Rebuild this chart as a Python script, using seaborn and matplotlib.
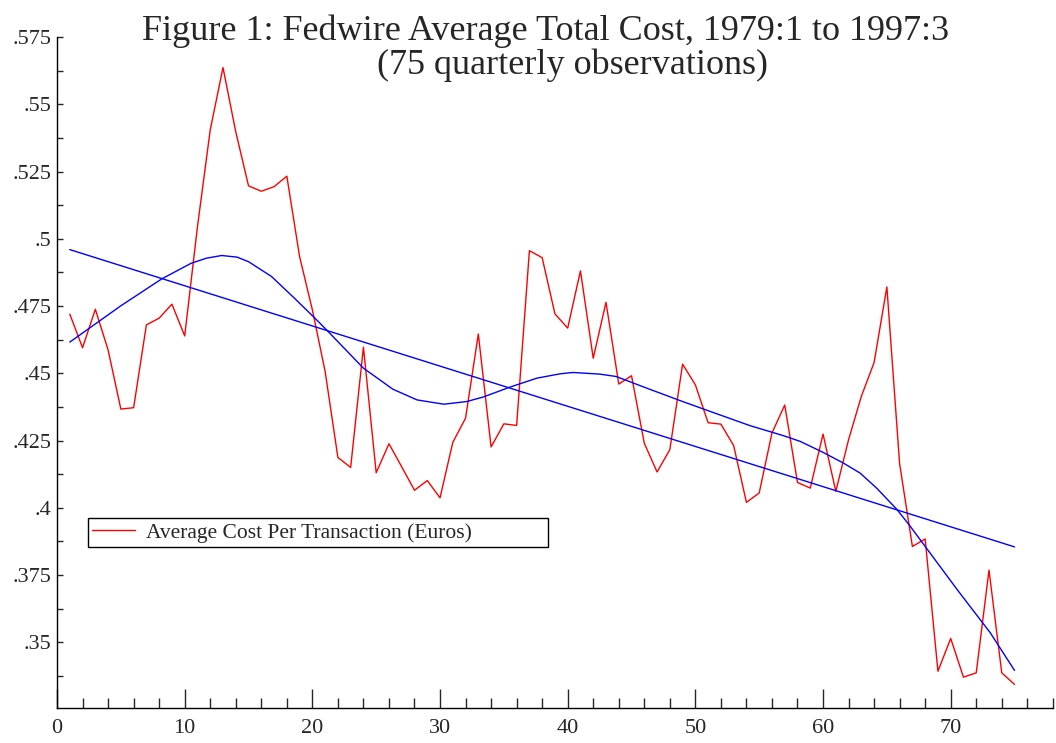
import numpy as np
import pandas as pd
import seaborn as sns
import matplotlib.pyplot as plt
from matplotlib.ticker import MultipleLocator, FuncFormatter
from matplotlib.lines import Line2D

# quarterly observations 1979:1 - 1997:3, average cost per transaction
quarter = list(range(1, 76))
avg_cost = [
    .472, .4595, .4738, .4587, .4367, .4372, .468, .4705, .4757, .4639,
    .5045, .5405, .5637, .5398, .5197, .5177, .5194, .5233, .4934, .4736,
    .4507, .4187, .4150, .4597, .4130, .4238, .4152, .4065, .4101, .4037,
    .4243, .4333, .4646, .4226, .4312, .4306, .4956, .4930, .4721, .4668,
    .4881, .4556, .4764, .4460, .4491, .4240, .4133, .4216, .4534, .4457,
    .4316, .4311, .4231, .4020, .4055, .4278, .4382, .4094, .4073, .4274,
    .4061, .4253, .4414, .4540, .4821, .4163, .3856, .3884, .3392, .3514,
    .3370, .3386, .3768, .3386, .3343,
]
# smooth trend curve
smooth_q = [1, 5, 8.2, 10.5, 11.7, 12.9, 14.1, 15, 16.8, 18.6, 20.2, 21.1,
            24, 26.3, 28.2, 30.3, 32.1, 33.4, 35.5, 37.6, 39.4, 40.4, 42.5,
            43.8, 46.4, 49, 51.7, 54.3, 56.9, 58.2, 60, 61.6, 62.9, 64.2,
            65.8, 66.8, 67.8, 70.5, 73.1, 75]
smooth_v = [.4616, .4751, .4851, .4909, .4928, .4938, .4932, .4915, .4860,
            .4779, .4705, .4662, .4519, .4441, .4401, .4385, .4395, .4412,
            .4449, .4482, .4498, .4503, .4497, .4488, .4441, .4395, .4349,
            .4305, .4268, .4247, .4206, .4166, .4129, .4073, .3993, .3933,
            .3869, .3696, .3535, .3395]
legend_label = "Average Cost Per Transaction (Euros)"
title_1 = "Figure 1: Fedwire Average Total Cost, 1979:1 to 1997:3"
title_2 = "(75 quarterly observations)"

df = pd.DataFrame({"quarter": quarter, "cost": avg_cost})
smooth = pd.DataFrame({"quarter": smooth_q, "cost": smooth_v})

sns.set_style("ticks")
plt.rcParams["font.family"] = ["Liberation Serif", "DejaVu Serif"]

fig = plt.figure(figsize=(10.56, 7.43), dpi=100)
ax = fig.add_axes([0.054, 0.047, 0.943, 0.903])

sns.lineplot(data=df, x="quarter", y="cost", color="#ff0000", linewidth=1, ax=ax)
# linear trend fitted to the series
sns.regplot(data=df, x="quarter", y="cost", order=1, ci=None, scatter=False,
            color="#0000ff", line_kws={"linewidth": 1}, ax=ax)
sns.lineplot(data=smooth, x="quarter", y="cost", color="#0000ff", linewidth=1, ax=ax)

ax.set_xlim(0, 78)
ax.set_ylim(0.3255, 0.575)
ax.set_xlabel("")
ax.set_ylabel("")
sns.despine(ax=ax)
for s in ["left", "bottom"]:
    ax.spines[s].set_linewidth(1)
    ax.spines[s].set_color("black")

ax.xaxis.set_major_locator(MultipleLocator(10))
ax.xaxis.set_minor_locator(MultipleLocator(2))
ax.yaxis.set_major_locator(MultipleLocator(0.025))
ax.yaxis.set_minor_locator(MultipleLocator(0.0125))
ax.yaxis.set_major_formatter(FuncFormatter(lambda v, p: ("%g" % round(v, 4)).lstrip("0")))
ax.tick_params(axis="x", which="major", direction="in", length=14, width=1, labelsize=16, pad=8)
ax.tick_params(axis="x", which="minor", direction="in", length=7, width=1)
ax.tick_params(axis="y", which="both", direction="in", length=4, width=1, labelsize=16, pad=4)

handle = Line2D([], [], color="#ff0000", linewidth=1)
ax.legend([handle], [legend_label], loc="lower left",
          bbox_to_anchor=(0.031, 0.24, 0.462, 0.043), mode="expand",
          fancybox=False, edgecolor="black", framealpha=1, fontsize=15.5,
          handlelength=2, handletextpad=0.5, borderpad=0.2, borderaxespad=0)
ax.get_legend().get_frame().set_linewidth(1)

fig.text(0.517, 0.958, title_1, ha="center", va="center", fontsize=26)
fig.text(0.542, 0.912, title_2, ha="center", va="center", fontsize=26)

fig.savefig("out.png", dpi=100)
